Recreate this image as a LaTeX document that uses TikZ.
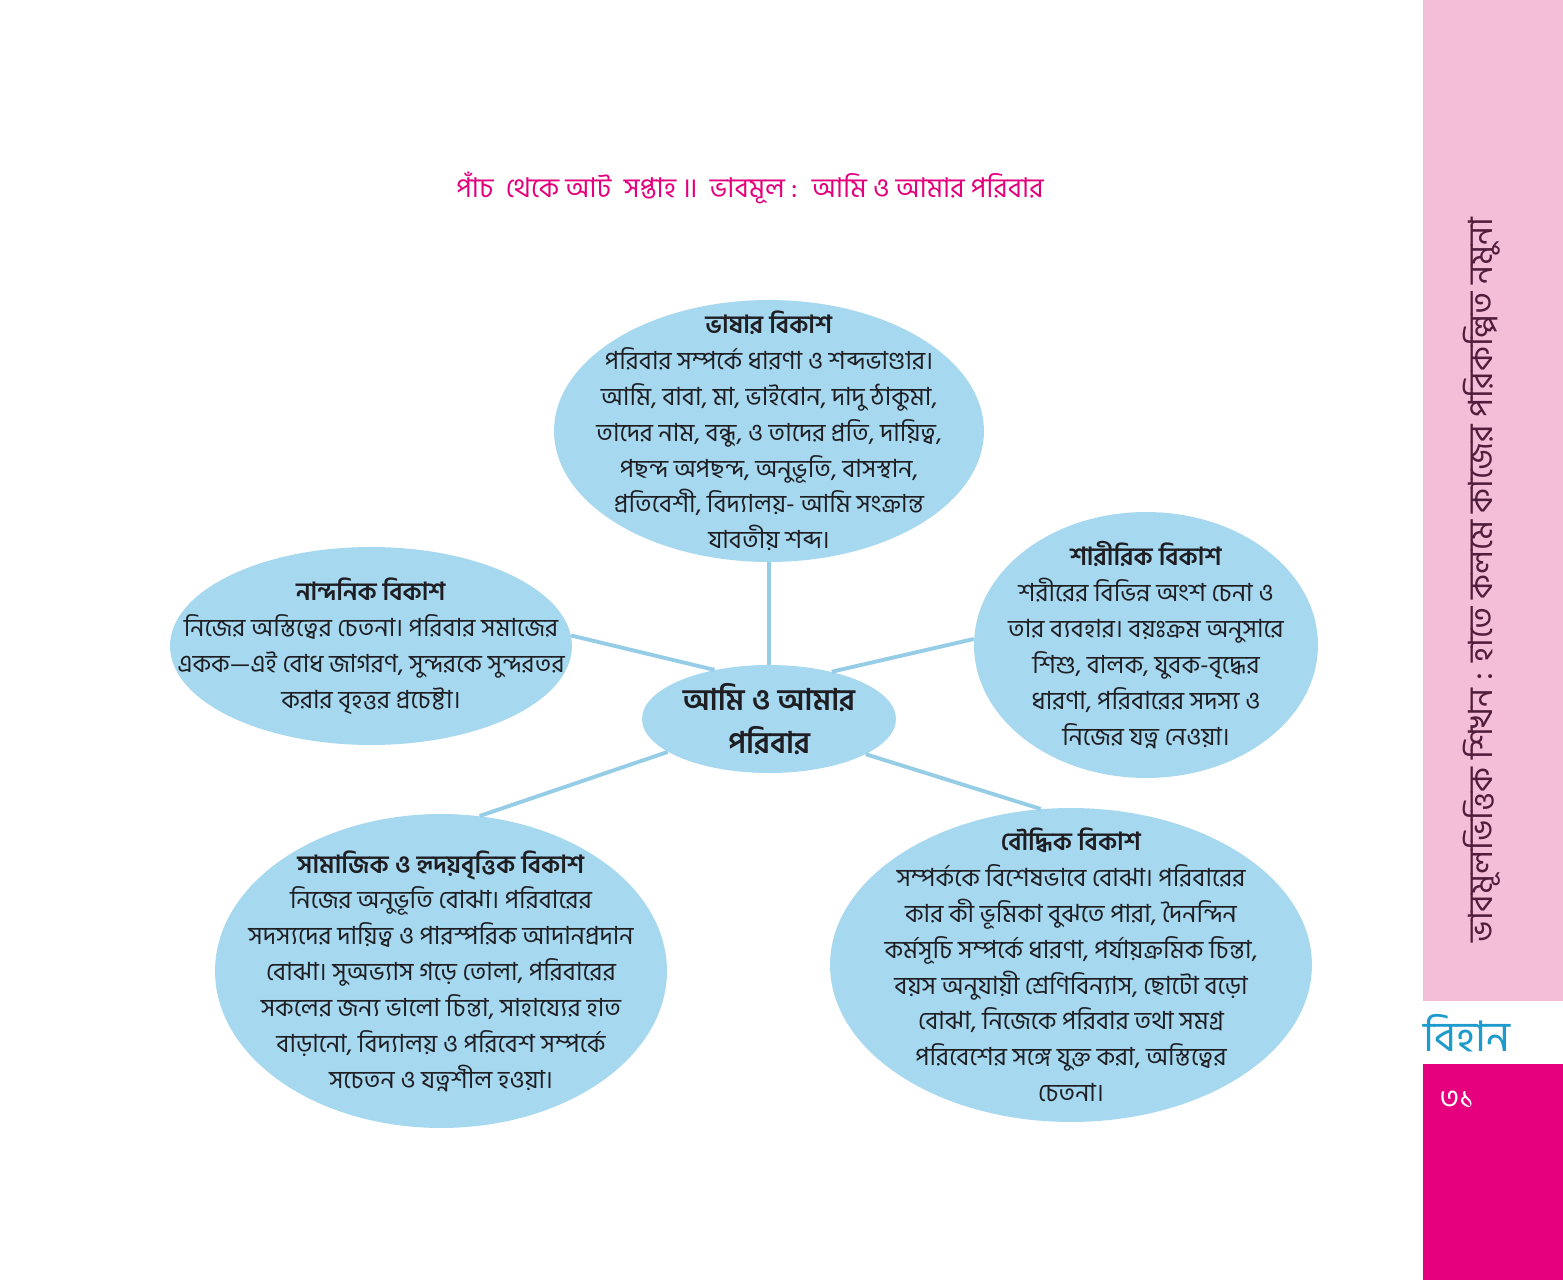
\documentclass[tikz,border=0pt]{standalone}
\usepackage{fontspec}
\setmainfont[Script=Bengali]{Hind Siliguri}
\usetikzlibrary{positioning,shapes.geometric}
\definecolor{bubblefill}{RGB}{166,216,239}
\definecolor{linkblue}{RGB}{150,205,230}
\definecolor{stripink}{RGB}{245,190,216}
\definecolor{pagemagenta}{RGB}{230,0,126}
\definecolor{titlemagenta}{RGB}{228,0,124}
\definecolor{bihanblue}{RGB}{30,155,205}
\definecolor{sideink}{RGB}{80,30,60}
\definecolor{bodyink}{RGB}{30,30,35}
\begin{document}
\begin{tikzpicture}[x=0.02cm, y=0.02cm,
    bubble/.style={ellipse, fill=bubblefill, inner sep=0pt},
    link/.style={linkblue, line width=2.2pt},
    bodytext/.style={align=center, text=bodyink, font=\fontsize{14.2}{20.4}\selectfont}]
    \fill[white] (0,0) rectangle (1563,-1280);
    \useasboundingbox (0,0) rectangle (1563,-1280);
    \fill[stripink] (1423,0) rectangle (1563,-1001);
    \fill[pagemagenta] (1423,-1064) rectangle (1563,-1280);

    \node[text=titlemagenta, font=\fontsize{15.5}{17}\selectfont] (title) at (750,-188)
        {পাঁচ \ থেকে আট \ সপ্তাহ ॥ \ ভাবমূল : \ আমি ও আমার পরিবার};

    \node[bubble, minimum width=8.6cm, minimum height=5.24cm] (lang) at (769,-431) {};
    \node[bubble, minimum width=8.04cm, minimum height=3.96cm] (aes) at (371,-646) {};
    \node[bubble, minimum width=6.88cm, minimum height=5.32cm] (phys) at (1146,-645) {};
    \node[bubble, minimum width=5.08cm, minimum height=2.16cm] (ctr) at (769,-719) {};
    \node[bubble, minimum width=9.04cm, minimum height=6.28cm] (soc) at (441,-971) {};
    \node[bubble, minimum width=9.64cm, minimum height=6.28cm] (cog) at (1071,-965) {};

    \draw[link] (lang.south) -- (ctr.north);
    \draw[link] (aes.3) -- (ctr.138);
    \draw[link] (phys.178) -- (ctr.37);
    \draw[link] (soc.76) -- (ctr.198);
    \draw[link] (cog.101) -- (ctr.340);

    \node[bodytext] (lang-txt) at (lang.center) {\textbf{ভাষার বিকাশ}\\
        পরিবার সম্পর্কে ধারণা ও শব্দভাণ্ডার।\\
        আমি, বাবা, মা, ভাইবোন, দাদু ঠাকুমা,\\
        তাদের নাম, বন্ধু, ও তাদের প্রতি, দায়িত্ব,\\
        পছন্দ অপছন্দ, অনুভূতি, বাসস্থান,\\
        প্রতিবেশী, বিদ্যালয়- আমি সংক্রান্ত\\
        যাবতীয় শব্দ।};
    \node[bodytext] (aes-txt) at (aes.center) {\textbf{নান্দনিক বিকাশ}\\
        নিজের অস্তিত্বের চেতনা। পরিবার সমাজের\\
        একক—এই বোধ জাগরণ, সুন্দরকে সুন্দরতর\\
        করার বৃহত্তর প্রচেষ্টা।};
    \node[bodytext] (phys-txt) at (phys.center) {\textbf{শারীরিক বিকাশ}\\
        শরীরের বিভিন্ন অংশ চেনা ও\\
        তার ব্যবহার। বয়ঃক্রম অনুসারে\\
        শিশু, বালক, যুবক-বৃদ্ধের\\
        ধারণা, পরিবারের সদস্য ও\\
        নিজের যত্ন নেওয়া।};
    \node[align=center, text=bodyink, font=\fontsize{17}{24.4}\selectfont\bfseries] (ctr-txt) at (ctr.center)
        {আমি ও আমার\\পরিবার};
    \node[bodytext] (soc-txt) at (soc.center) {\textbf{সামাজিক ও হৃদয়বৃত্তিক বিকাশ}\\
        নিজের অনুভূতি বোঝা। পরিবারের\\
        সদস্যদের দায়িত্ব ও পারস্পরিক আদানপ্রদান\\
        বোঝা। সুঅভ্যাস গড়ে তোলা, পরিবারের\\
        সকলের জন্য ভালো চিন্তা, সাহায্যের হাত\\
        বাড়ানো, বিদ্যালয় ও পরিবেশ সম্পর্কে\\
        সচেতন ও যত্নশীল হওয়া।};
    \node[bodytext] (cog-txt) at (cog.center) {\textbf{বৌদ্ধিক বিকাশ}\\
        সম্পর্ককে বিশেষভাবে বোঝা। পরিবারের\\
        কার কী ভূমিকা বুঝতে পারা, দৈনন্দিন\\
        কর্মসূচি সম্পর্কে ধারণা, পর্যায়ক্রমিক চিন্তা,\\
        বয়স অনুযায়ী শ্রেণিবিন্যাস, ছোটো বড়ো\\
        বোঝা, নিজেকে পরিবার তথা সমগ্র\\
        পরিবেশের সঙ্গে যুক্ত করা, অস্তিত্বের\\
        চেতনা।};

    \node[rotate=90, text=sideink, font=\fontsize{19}{21}\selectfont] (side) at (1482,-580)
        {ভাবমূলভিত্তিক শিখন : হাতে কলমে কাজের পরিকল্পিত নমুনা};
    \node[text=bihanblue, font=\fontsize{24}{26}\selectfont] (bihan) at (1467,-1033) {বিহান};
    \node[text=white, font=\fontsize{17}{19}\selectfont] (page) at (1457,-1100) {৩১};
\end{tikzpicture}
\end{document}
